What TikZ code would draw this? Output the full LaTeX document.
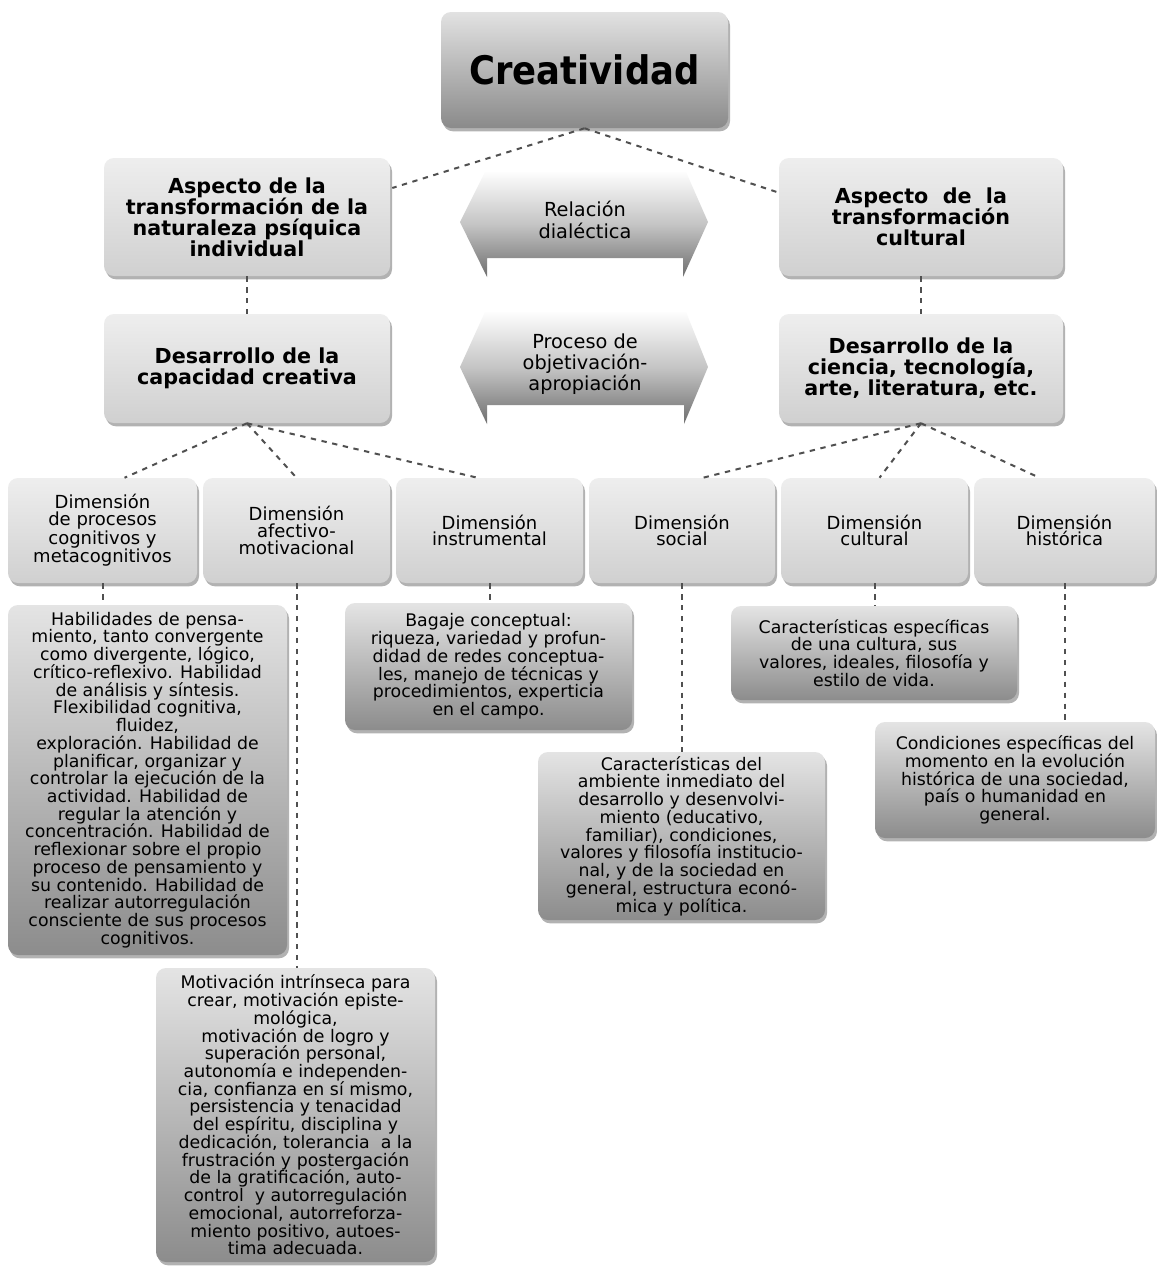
\documentclass[tikz,border=0pt]{standalone}
\usepackage{fontspec}
\setmainfont{DejaVu Sans}
\newfontfamily\creafont[FakeStretch=0.9]{DejaVu Sans}
\usetikzlibrary{shadows,calc}
\definecolor{lnc}{HTML}{505050}
\definecolor{hdtop}{HTML}{EEEEEE}
\definecolor{hdbot}{HTML}{D0D0D0}
\definecolor{lftop}{HTML}{E4E4E4}
\definecolor{lfbot}{HTML}{8C8C8C}
\definecolor{crtop}{HTML}{E2E2E2}
\definecolor{crbot}{HTML}{8A8A8A}
\definecolor{artop}{HTML}{FDFDFD}
\definecolor{armid}{HTML}{C4C4C4}
\definecolor{arbot}{HTML}{6E6E6E}
\begin{document}
\begin{tikzpicture}[x=0.75pt,y=-0.75pt,
  base/.style={rounded corners=7.5pt, align=center, inner sep=0pt,
    drop shadow={shadow xshift=1.5pt, shadow yshift=-2.5pt, fill=black, opacity=0.3}},
  creabox/.style={base, top color=crtop, bottom color=crbot,
    font=\creafont\bfseries\fontsize{29.5}{32}\selectfont},
  headbox/.style={base, top color=hdtop, bottom color=hdbot,
    font=\bfseries\fontsize{15.5}{15.75}\selectfont},
  dimbox/.style={base, top color=hdtop, bottom color=hdbot,
    font=\fontsize{13.5}{12.6}\selectfont, minimum height=78.75pt},
  leafbox/.style={base, top color=lftop, bottom color=lfbot,
    font=\fontsize{13}{13.3}\selectfont},
  arrtxt/.style={align=center, inner sep=0pt, font=\fontsize{14.5}{16}\selectfont},
  conn/.style={draw=lnc, line width=1.5pt, dash pattern=on 4pt off 4.2pt}
]
\useasboundingbox (0,0) rectangle (1157,1272);
\fill[white] (0,0) rectangle (1157,1272);

% double arrows
\shade[top color=artop, bottom color=arbot, middle color=armid]
  (460,222) -- (485,172) -- (686,172) -- (708,222) -- (683,277) -- (683,258)
  -- (487,258) -- (487,277) -- cycle;
\shade[top color=artop, bottom color=arbot, middle color=armid]
  (460,367) -- (485,312) -- (686,312) -- (708,367) -- (684,424) -- (684,405)
  -- (487,405) -- (487,424) -- cycle;
\node[arrtxt] (rel) at (585,220) {Relación\\dialéctica};
\node[arrtxt] (proc) at (585,364) {Proceso de\\objetivación-\\apropiación};

% main boxes
\node[creabox, minimum width=215.25pt, minimum height=87pt] (crea) at (584.5,70) {Creatividad};
\node[headbox, minimum width=214.5pt, minimum height=88.5pt] (aspL) at (247,217)
  {Aspecto de la\\transformación de la\\naturaleza psíquica\\individual};
\node[headbox, minimum width=213pt, minimum height=88.5pt] (aspR) at (921,217)
  {Aspecto~ de~ la\\transformación\\cultural};
\node[headbox, minimum width=214.5pt, minimum height=81.75pt] (desL) at (247,368.5)
  {Desarrollo de la\\capacidad creativa};
\node[headbox, minimum width=213pt, minimum height=81.75pt] (desR) at (921,368.5)
  {Desarrollo de la\\ciencia, tecnología,\\arte, literatura, etc.};

% dimension boxes
\node[dimbox, minimum width=141.75pt] (d1) at (102.5,530.5) {Dimensión\\de procesos\\cognitivos y\\metacognitivos};
\node[dimbox, minimum width=140.25pt] (d2) at (296.5,530.5) {Dimensión\\afectivo-\\motivacional};
\node[dimbox, minimum width=140.25pt] (d3) at (489.5,530.5) {Dimensión\\instrumental};
\node[dimbox, minimum width=139.5pt] (d4) at (682,530.5) {Dimensión\\social};
\node[dimbox, minimum width=140.25pt] (d5) at (874.5,530.5) {Dimensión\\cultural};
\node[dimbox, minimum width=135.75pt] (d6) at (1064.5,530.5) {Dimensión\\histórica};

% leaf boxes
\node[leafbox, minimum width=209.25pt, minimum height=262.5pt] (hab) at (147.5,780)
  {Habilidades de pensa-\\miento, tanto convergente\\como divergente, lógico,\\crítico-reflexivo. Habilidad\\de análisis y síntesis.\\Flexibilidad cognitiva,\\fluidez,\\exploración. Habilidad de\\planificar, organizar y\\controlar la ejecución de la\\actividad. Habilidad de\\regular la atención y\\concentración. Habilidad de\\reflexionar sobre el propio\\proceso de pensamiento y\\su contenido. Habilidad de\\realizar autorregulación\\consciente de sus procesos\\cognitivos.};
\node[leafbox, minimum width=209.25pt, minimum height=220.5pt] (mot) at (295.5,1115)
  {Motivación intrínseca para\\crear, motivación episte-\\mológica,\\motivación de logro y\\superación personal,\\autonomía e independen-\\cia, confianza en sí mismo,\\persistencia y tenacidad\\del espíritu, disciplina y\\dedicación, tolerancia~ a la\\frustración y postergación\\de la gratificación, auto-\\control~ y autorregulación\\emocional, autorreforza-\\miento positivo, autoes-\\tima adecuada.};
\node[leafbox, minimum width=215.25pt, minimum height=95.25pt] (bag) at (488.5,666.5)
  {Bagaje conceptual:\\riqueza, variedad y profun-\\didad de redes conceptua-\\les, manejo de técnicas y\\procedimientos, experticia\\en el campo.};
\node[leafbox, minimum width=215.25pt, minimum height=126pt] (amb) at (681.5,836)
  {Características del\\ambiente inmediato del\\desarrollo y desenvolvi-\\miento (educativo,\\familiar), condiciones,\\valores y filosofía institucio-\\nal, y de la sociedad en\\general, estructura econó-\\mica y política.};
\node[leafbox, minimum width=214.5pt, minimum height=70.5pt] (esp) at (874,653)
  {Características específicas\\de una cultura, sus\\valores, ideales, filosofía y\\estilo de vida.};
\node[leafbox, minimum width=210pt, minimum height=87pt] (con) at (1015,780)
  {Condiciones específicas del\\momento en la evolución\\histórica de una sociedad,\\país o humanidad en\\general.};

% connectors
\draw[conn] (crea.south) -- ($(aspL.east)+(2,-29)$);
\draw[conn] (crea.south) -- ($(aspR.west)+(-2,-25)$);
\draw[conn] (aspL.south) -- (desL.north);
\draw[conn] (aspR.south) -- (desR.north);
\draw[conn] (desL.south) -- ($(d1.north)+(22,0)$);
\draw[conn] (desL.south) -- (d2.north);
\draw[conn] (desL.south) -- ($(d3.north)+(-12,0)$);
\draw[conn] (desR.south) -- ($(d4.north)+(21,0)$);
\draw[conn] (desR.south) -- ($(d5.north)+(5,0)$);
\draw[conn] (desR.south) -- ($(d6.north)+(-25,0)$);
\draw[conn] (d1.south) -- (d1.south |- hab.north);
\draw[conn] (d2.south) -- (d2.south |- mot.north);
\draw[conn] (d3.south) -- (d3.south |- bag.north);
\draw[conn] (d4.south) -- (d4.south |- amb.north);
\draw[conn] (d5.south) -- (d5.south |- esp.north);
\draw[conn] (d6.south) -- (d6.south |- con.north);
\end{tikzpicture}
\end{document}
